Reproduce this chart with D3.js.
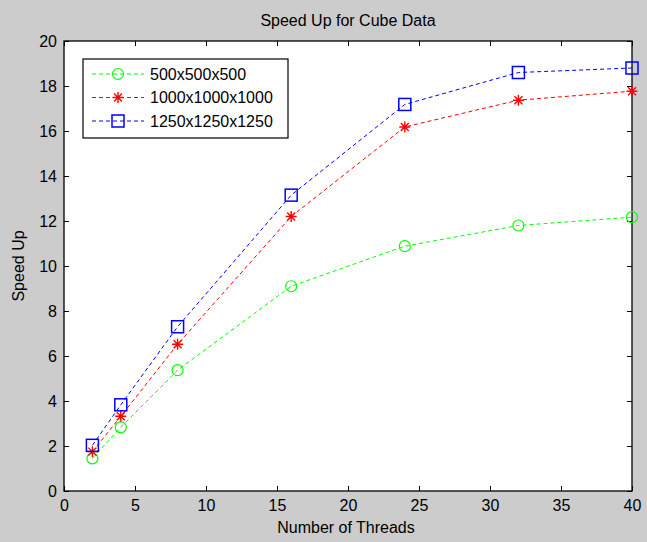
<!DOCTYPE html>
<html>
<head>
<meta charset="utf-8">
<script src="https://cdn.jsdelivr.net/npm/d3@7"></script>
<style>
	body { margin: 0; background: #cccccc; }
	svg { display: block; font-family: "Liberation Sans", Arial, sans-serif; }
</style>
</head>
<body>
<svg></svg>
<script>
// Data
const threads = [2, 4, 8, 16, 24, 32, 40];
const speed500 = [1.45, 2.83, 5.37, 9.1, 10.88, 11.8, 12.17];
const speed1000 = [1.75, 3.32, 6.52, 12.2, 16.18, 17.37, 17.77];
const speed1250 = [2.03, 3.83, 7.3, 13.15, 17.18, 18.6, 18.8];
const seriesNames = ["500x500x500", "1000x1000x1000", "1250x1250x1250"];
const xTicks = [0, 5, 10, 15, 20, 25, 30, 35, 40];
const yTicks = [0, 2, 4, 6, 8, 10, 12, 14, 16, 18, 20];

const svgWidth = 647;
const svgHeight = 542;
const margins = {top: 41, right: 15, bottom: 51, left: 64};

const scaleX = d3.scaleLinear()
	.domain([0, 40])
	.range([margins.left, svgWidth - margins.right]);

const scaleY = d3.scaleLinear()
	.domain([0, 20])
	.range([svgHeight - margins.bottom, margins.top]);

const series = [
	{name: seriesNames[0], values: speed500, color: "#00ff00", marker: "circle"},
	{name: seriesNames[1], values: speed1000, color: "#ff0000", marker: "star"},
	{name: seriesNames[2], values: speed1250, color: "#0000ff", marker: "square"}
];

const chart = d3.select('svg')
	.attr('width', svgWidth)
	.attr('height', svgHeight);

// Plot area background
chart.append("rect")
	.attr("x", scaleX(0))
	.attr("y", scaleY(20))
	.attr("width", scaleX(40) - scaleX(0))
	.attr("height", scaleY(0) - scaleY(20))
	.attr("fill", "#fff");

const tickLen = 5;

// Axes with inward ticks (box style)
chart.append("g")
	.attr("transform", `translate(0, ${scaleY(0)})`)
	.call(d3.axisBottom(scaleX).tickValues(xTicks).tickSizeInner(-tickLen).tickSizeOuter(0).tickPadding(9))
	.call(g => g.select(".domain").remove());

chart.append("g")
	.attr("transform", `translate(0, ${scaleY(20)})`)
	.call(d3.axisTop(scaleX).tickValues(xTicks).tickSizeInner(-tickLen).tickSizeOuter(0).tickFormat(""))
	.call(g => g.select(".domain").remove());

chart.append("g")
	.attr("transform", `translate(${scaleX(0)}, 0)`)
	.call(d3.axisLeft(scaleY).tickValues(yTicks).tickSizeInner(-tickLen).tickSizeOuter(0).tickPadding(7))
	.call(g => g.select(".domain").remove());

chart.append("g")
	.attr("transform", `translate(${scaleX(40)}, 0)`)
	.call(d3.axisRight(scaleY).tickValues(yTicks).tickSizeInner(-tickLen).tickSizeOuter(0).tickFormat(""))
	.call(g => g.select(".domain").remove());

chart.selectAll(".tick text")
	.attr("font-size", 16)
	.attr("font-family", "'Liberation Sans', Arial, sans-serif")
	.attr("fill", "#000");
chart.selectAll(".tick line").attr("stroke", "#000");

// Box
chart.append("rect")
	.attr("x", scaleX(0))
	.attr("y", scaleY(20))
	.attr("width", scaleX(40) - scaleX(0))
	.attr("height", scaleY(0) - scaleY(20))
	.attr("fill", "none")
	.attr("stroke", "#000")
	.attr("stroke-width", 1.3);

const drawMarker = (g, type, color) => {
	if(type === "circle"){
		g.append("circle").attr("r", 5.5).attr("fill", "none").attr("stroke", color).attr("stroke-width", 1.2);
	} else if(type === "square"){
		g.append("rect").attr("x", -6).attr("y", -6).attr("width", 12).attr("height", 12)
			.attr("fill", "none").attr("stroke", color).attr("stroke-width", 1.5);
	} else {
		const s = 5.5, d = 4;
		g.append("path")
			.attr("d", `M${-s},0H${s}M0,${-s}V${s}M${-d},${-d}L${d},${d}M${-d},${d}L${d},${-d}`)
			.attr("stroke", color).attr("stroke-width", 1.4).attr("fill", "none");
	}
};

const line = d3.line()
	.x((d, i) => scaleX(threads[i]))
	.y(d => scaleY(d));

// Lines and markers
series.forEach(s => {
	chart.append("path")
		.datum(s.values)
		.attr("fill", "none")
		.attr("stroke", s.color)
		.attr("stroke-width", 1)
		.attr("stroke-dasharray", "4,3")
		.attr("d", line);

	s.values.forEach((v, i) => {
		const g = chart.append("g")
			.attr("transform", `translate(${scaleX(threads[i])}, ${scaleY(v)})`);
		drawMarker(g, s.marker, s.color);
	});
});

// Legend
const legend = chart.append("g").attr("transform", "translate(83, 59)");
legend.append("rect")
	.attr("width", 205)
	.attr("height", 79)
	.attr("fill", "#fff")
	.attr("stroke", "#000")
	.attr("stroke-width", 1.2);

series.forEach((s, i) => {
	const row = legend.append("g").attr("transform", `translate(0, ${15 + i * 23.5})`);
	row.append("line")
		.attr("x1", 9).attr("x2", 61)
		.attr("stroke", s.color)
		.attr("stroke-dasharray", "4,3");
	const m = row.append("g").attr("transform", "translate(35, 0)");
	drawMarker(m, s.marker, s.color);
	row.append("text")
		.attr("x", 67)
		.attr("dy", "0.35em")
		.attr("font-size", 16)
		.text(s.name);
});

// Title and axis labels
chart.append("text")
	.attr("x", (scaleX(0) + scaleX(40)) / 2)
	.attr("y", 26)
	.attr("text-anchor", "middle")
	.attr("font-size", 16)
	.text("Speed Up for Cube Data");

chart.append("text")
	.attr("x", (scaleX(0) + scaleX(40)) / 2 - 2)
	.attr("y", 533)
	.attr("text-anchor", "middle")
	.attr("font-size", 16)
	.text("Number of Threads");

chart.append("text")
	.attr("transform", `translate(24, ${(scaleY(0) + scaleY(20)) / 2}) rotate(-90)`)
	.attr("text-anchor", "middle")
	.attr("font-size", 16)
	.text("Speed Up");
</script>
</body>
</html>
